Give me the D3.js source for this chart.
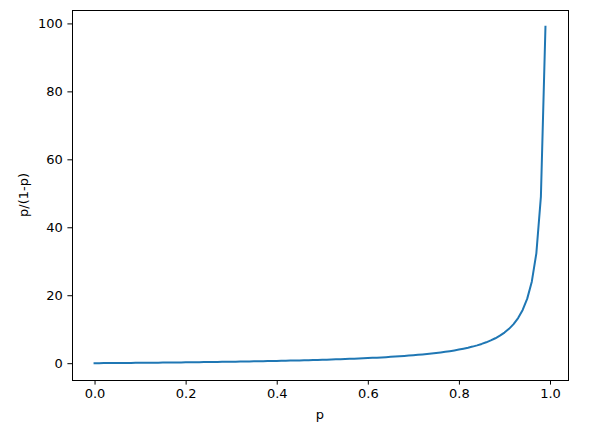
<!DOCTYPE html>
<html lang="en">
<head>
    <meta charset="UTF-8">
    <title>p / (1 - p)</title>
    <script src="https://d3js.org/d3.v7.min.js"></script>
    <style>
        body { margin: 0; background: #fff; }
        svg, svg text { font-family: "DejaVu Sans", sans-serif; }
        svg { display: block; }
        .tick text { font-size: 13px; fill: #000; font-family: "DejaVu Sans", sans-serif; }
        .tick line { stroke: #000; }
        .domain { display: none; }
    </style>
</head>
<body>
    <svg id="chart" width="595" height="435"></svg>

    <script>
        // x values (p) and y values (odds p/(1-p))
        const pValues = [
            0.00, 0.01, 0.02, 0.03, 0.04, 0.05, 0.06, 0.07, 0.08, 0.09,
            0.10, 0.11, 0.12, 0.13, 0.14, 0.15, 0.16, 0.17, 0.18, 0.19,
            0.20, 0.21, 0.22, 0.23, 0.24, 0.25, 0.26, 0.27, 0.28, 0.29,
            0.30, 0.31, 0.32, 0.33, 0.34, 0.35, 0.36, 0.37, 0.38, 0.39,
            0.40, 0.41, 0.42, 0.43, 0.44, 0.45, 0.46, 0.47, 0.48, 0.49,
            0.50, 0.51, 0.52, 0.53, 0.54, 0.55, 0.56, 0.57, 0.58, 0.59,
            0.60, 0.61, 0.62, 0.63, 0.64, 0.65, 0.66, 0.67, 0.68, 0.69,
            0.70, 0.71, 0.72, 0.73, 0.74, 0.75, 0.76, 0.77, 0.78, 0.79,
            0.80, 0.81, 0.82, 0.83, 0.84, 0.85, 0.86, 0.87, 0.88, 0.89,
            0.90, 0.91, 0.92, 0.93, 0.94, 0.95, 0.96, 0.97, 0.98, 0.99
        ];
        const oddsValues = [
            0, 0.0101, 0.0204, 0.0309, 0.0417, 0.0526, 0.0638, 0.0753, 0.0870, 0.0989,
            0.1111, 0.1236, 0.1364, 0.1494, 0.1628, 0.1765, 0.1905, 0.2048, 0.2195, 0.2346,
            0.25, 0.2658, 0.2821, 0.2987, 0.3158, 0.3333, 0.3514, 0.3699, 0.3889, 0.4085,
            0.4286, 0.4493, 0.4706, 0.4925, 0.5152, 0.5385, 0.5625, 0.5873, 0.6129, 0.6393,
            0.6667, 0.6949, 0.7241, 0.7544, 0.7857, 0.8182, 0.8519, 0.8868, 0.9231, 0.9608,
            1, 1.0408, 1.0833, 1.1277, 1.1739, 1.2222, 1.2727, 1.3256, 1.3810, 1.4390,
            1.5, 1.5641, 1.6316, 1.7027, 1.7778, 1.8571, 1.9412, 2.0303, 2.125, 2.2258,
            2.3333, 2.4483, 2.5714, 2.7037, 2.8462, 3, 3.1667, 3.3478, 3.5455, 3.7619,
            4, 4.2632, 4.5556, 4.8824, 5.25, 5.6667, 6.1429, 6.6923, 7.3333, 8.0909,
            9, 10.111, 11.5, 13.286, 15.667, 19, 24, 32.333, 49, 99
        ];
        const xTicks = [0.0, 0.2, 0.4, 0.6, 0.8, 1.0];
        const yTicks = [0, 20, 40, 60, 80, 100];

        // Frame of the axes
        const margin = {top: 10, right: 27, bottom: 55, left: 72};
        const width = 595 - margin.left - margin.right;
        const height = 435 - margin.top - margin.bottom;

        const svg = d3.select("#chart")
            .append("g")
            .attr("transform", `translate(${margin.left},${margin.top})`);

        // matplotlib-style 5% padding around the data
        const xMin = d3.min(pValues), xMax = d3.max(pValues);
        const yMin = d3.min(oddsValues), yMax = d3.max(oddsValues);
        const xPad = (xMax - xMin) * 0.05, yPad = (yMax - yMin) * 0.05;

        const x = d3.scaleLinear().domain([xMin - xPad, xMax + xPad]).range([0, width]);
        const y = d3.scaleLinear().domain([yMin - yPad, yMax + yPad]).range([height, 0]);

        // Axes
        svg.append("g")
            .attr("transform", `translate(0,${height})`)
            .call(d3.axisBottom(x).tickValues(xTicks).tickFormat(d3.format(".1f"))
                .tickSize(4.6).tickPadding(4.6))
            .attr("font-family", null);

        svg.append("g")
            .call(d3.axisLeft(y).tickValues(yTicks).tickFormat(d3.format("d"))
                .tickSize(4.6).tickPadding(4.6))
            .attr("font-family", null);

        // Curve
        const points = pValues.map((p, i) => [p, oddsValues[i]]);
        svg.append("path")
            .datum(points)
            .attr("fill", "none")
            .attr("stroke", "#1f77b4")
            .attr("stroke-width", 2)
            .attr("stroke-linejoin", "round")
            .attr("stroke-linecap", "square")
            .attr("d", d3.line().x(d => x(d[0])).y(d => y(d[1])));

        // Axes frame
        svg.append("rect")
            .attr("x", 0.5).attr("y", 0.5)
            .attr("width", width).attr("height", height)
            .attr("fill", "none")
            .attr("stroke", "#000")
            .attr("stroke-width", 1);

        // Axis labels
        svg.append("text")
            .attr("x", width / 2)
            .attr("y", height + 39)
            .attr("text-anchor", "middle")
            .attr("font-size", 13)
            .text("p");

        svg.append("text")
            .attr("transform", `translate(${28 - margin.left},${height / 2}) rotate(-90)`)
            .attr("text-anchor", "middle")
            .attr("font-size", 13)
            .text("p/(1-p)");
    </script>
</body>
</html>
